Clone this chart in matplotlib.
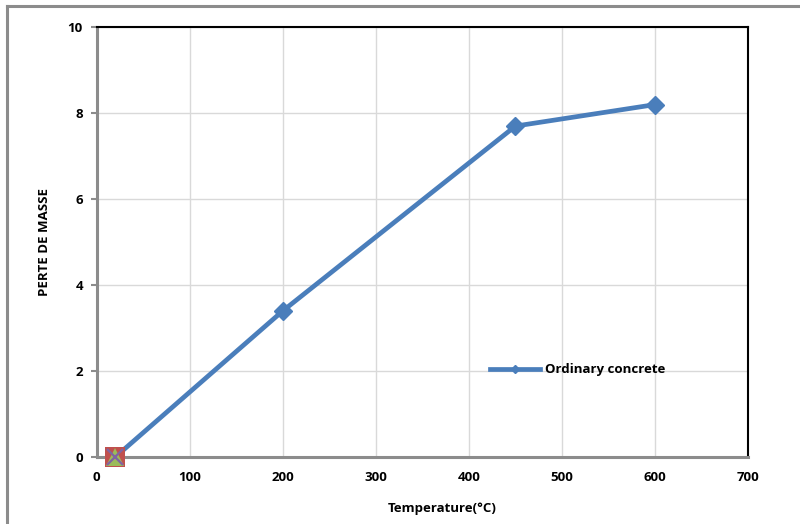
import matplotlib
matplotlib.use('Agg')
from matplotlib import pyplot as plt
from matplotlib.lines import Line2D

# data
temp_C = [20, 200, 450, 600]
mass_loss = [0, 3.4, 7.7, 8.2]
# other series only have the starting point
other_x = [20]
other_y = [0]

BLUE = '#4a7ebb'
plt.rcParams['font.family'] = ['Open Sans', 'DejaVu Sans']
plt.rcParams['font.weight'] = 'bold'

fig = plt.figure(figsize=(8, 5.24), dpi=100)
ax = fig.add_axes([0.121, 0.128, 0.814, 0.82])

# outer chart frame (left and top edges visible)
fig.add_artist(Line2D([0.009, 0.009], [0, 0.989], color='#8c8c8c', lw=2.2))
fig.add_artist(Line2D([0.009, 0.998], [0.989, 0.989], color='#8c8c8c', lw=2.2))

ax.plot(temp_C, mass_loss, '-D', color=BLUE, lw=3.4, ms=9.5,
        label='Ordinary concrete', zorder=6, clip_on=False)
ax.plot(other_x, other_y, 's', color='#c0504d', ms=14, mew=0, zorder=7,
        clip_on=False)
ax.plot(other_x, other_y, '^', color='#9bbb59', ms=13, mew=0, zorder=8,
        clip_on=False)
ax.plot(other_x, other_y, 'x', color='#8064a2', ms=11, mew=1.6, zorder=9,
        clip_on=False)

ax.set_xlim(0, 700)
ax.set_ylim(0, 10)
ax.set_xticks(range(0, 701, 100))
ax.set_yticks(range(0, 11, 2))
ax.grid(True, color='#d9d9d9', lw=1)
ax.set_axisbelow(True)

for s in ['left', 'bottom']:
    ax.spines[s].set_color('#8c8c8c')
    ax.spines[s].set_linewidth(2.2)
for s in ['top', 'right']:
    ax.spines[s].set_color('black')
    ax.spines[s].set_linewidth(1.5)

ax.tick_params(axis='both', labelsize=9.5, colors='#8c8c8c', length=4,
               width=1.5, labelcolor='black', pad=6)
ax.tick_params(axis='x', length=0, pad=10)

ax.set_xlabel('Temperature(°C)', fontsize=9.5, fontweight='bold')
ax.xaxis.set_label_coords(0.531, -0.105)
ax.set_ylabel('PERTE DE MASSE', fontsize=9.5, fontweight='bold')
ax.yaxis.set_label_coords(-0.071, 0.5)

leg = ax.legend(loc='lower left', bbox_to_anchor=(0.585, 0.16), frameon=False,
                fontsize=9.5, handlelength=3.8, markerscale=0.45,
                handletextpad=0.4)

fig.savefig('out.png', dpi=100)
